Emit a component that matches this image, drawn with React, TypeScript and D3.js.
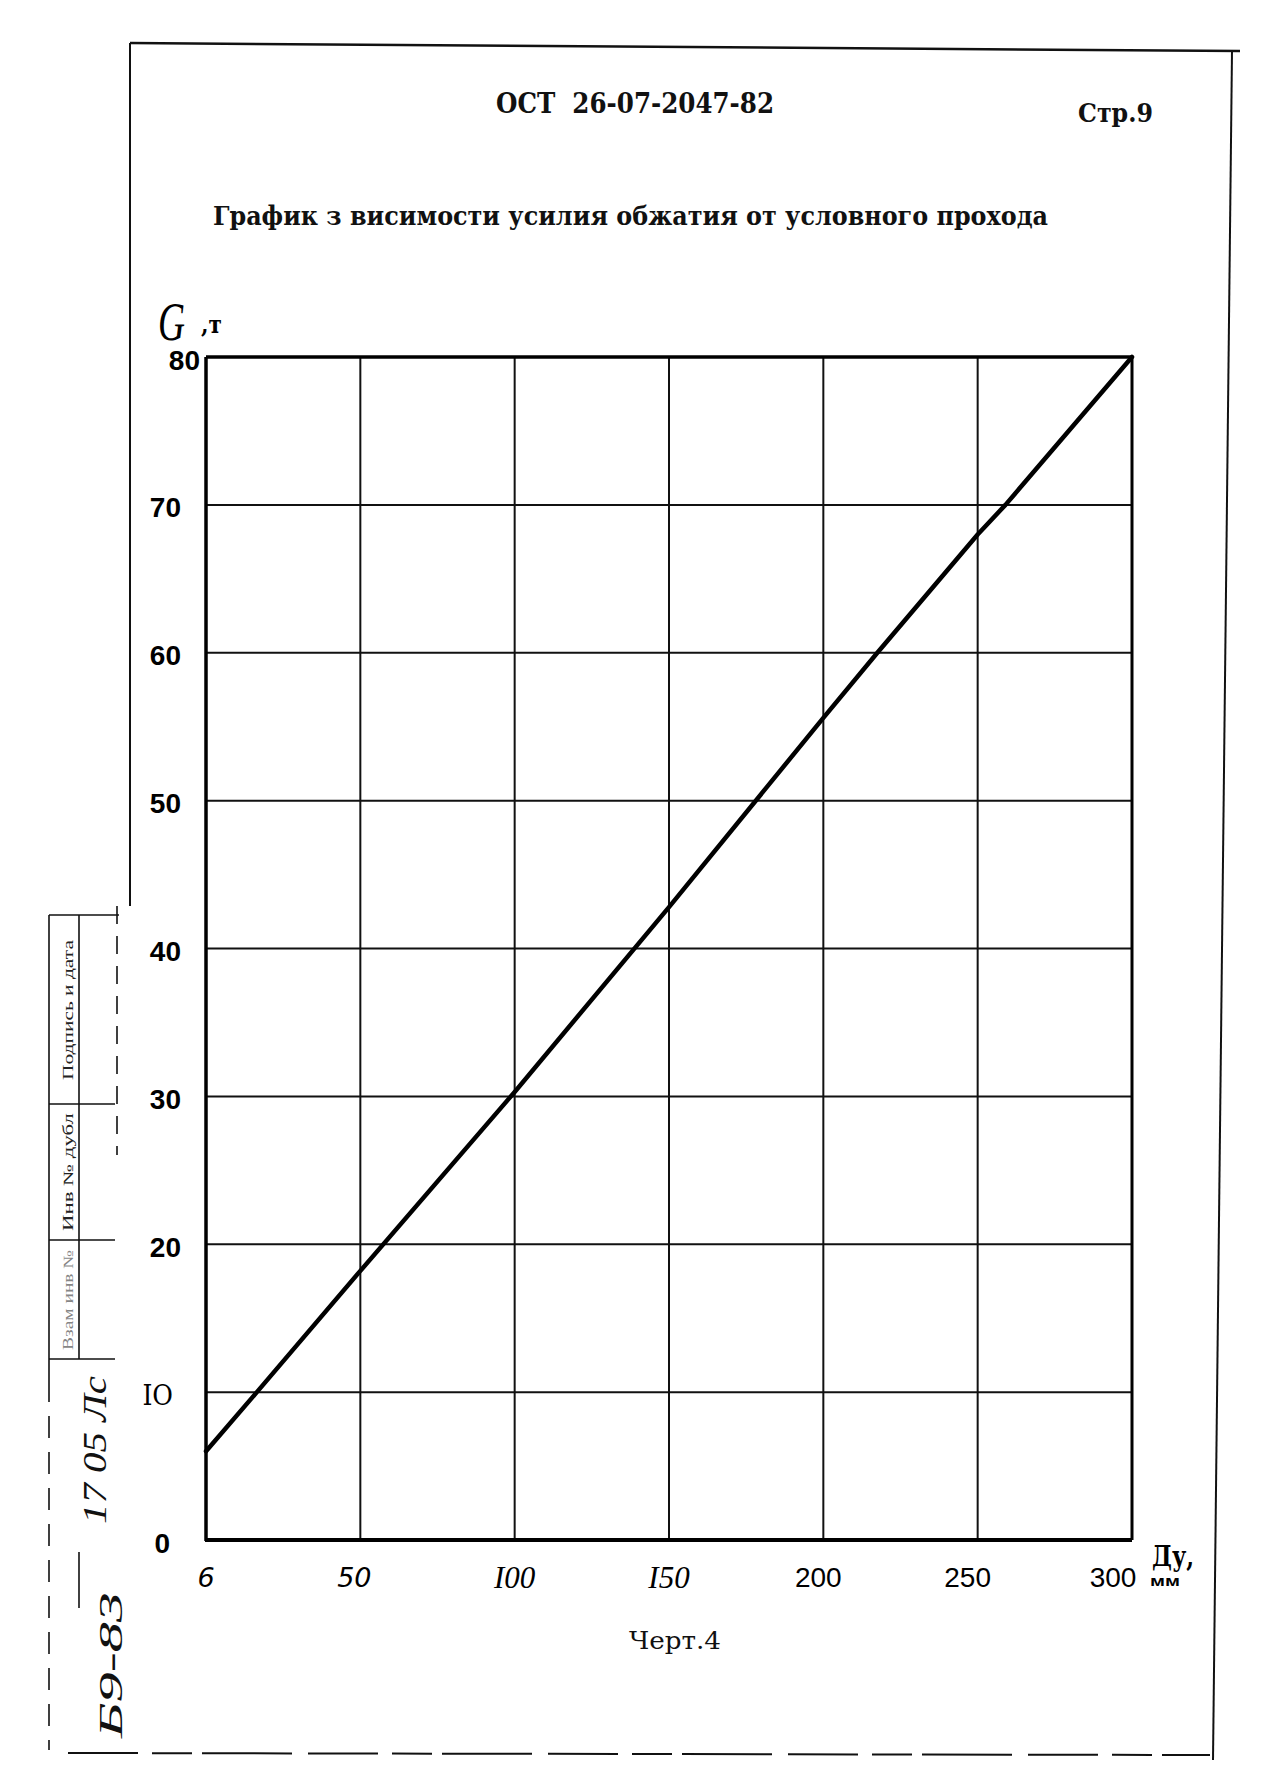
import React from "react";
import * as d3 from "d3";

// ---- data ----
const duValues = [6, 20.5, 50, 100, 150, 200, 217.5, 250, 259, 300];
const forceValues = [6.0, 10, 18.2, 30.3, 42.8, 55.6, 60, 68.0, 70, 80];

const xTickValues = [6, 50, 100, 150, 200, 250, 300];
const xTickLabels = ["6", "50", "I00", "I50", "200", "250", "300"];
const yTickValues = [0, 10, 20, 30, 40, 50, 60, 70, 80];
const yTickLabels = ["0", "IO", "20", "30", "40", "50", "60", "70", "80"];

const headerText = "ОСТ  26-07-2047-82";
const pageText = "Стр.9";
const titleText = "График з висимости усилия обжатия от условного прохода";
const captionText = "Черт.4";
const yAxisName = "G";
const yAxisUnit = ",т";
const xAxisName = "Ду,";
const xAxisUnit = "мм";
const stampTexts = ["Подпись и дата", "Инв № дубл", "Взам инв №"];
const handNotes = ["17 05 Лс", "Б9-83"];

// ---- layout / style constants ----
const W = 1272;
const H = 1776;
const TYPE = "'DejaVu Serif Condensed', 'DejaVu Serif', serif";
const SANS = "'Liberation Sans', Arial, sans-serif";
const X_LABEL_SHIFT = [0, -6, 0, 0, -5, -10, -19];

export default function App() {
  const left = 206, right = 1132, top = 357, bottom = 1540;
  const step = (right - left) / 6;
  const x = d3.scaleLinear().domain([6, 50, 300]).range([left, left + step, right]);
  const y = d3.scaleLinear().domain([0, 80]).range([bottom, top]);

  const pts: [number, number][] = duValues.map((d, i) => [d, forceValues[i]]);
  const line = d3
    .line<[number, number]>()
    .x((d) => x(d[0]))
    .y((d) => y(d[1]))
    .curve(d3.curveLinear);

  const xLabelStyle = (i: number) => {
    if (i < 2) return { fontFamily: "'DejaVu Sans', sans-serif", fontStyle: "italic", fontSize: 27 };
    if (i < 4) return { fontFamily: "'Liberation Serif', serif", fontStyle: "italic", fontSize: 31 };
    return { fontFamily: SANS, fontStyle: "normal", fontSize: 28 };
  };

  const yLabelX = (v: number, i: number) => {
    if (i === yTickValues.length - 1) return left - 6;
    if (v === 0) return left - 36;
    if (v === 10) return left - 33;
    return left - 25;
  };

  return (
    <svg
      width={W}
      height={H}
      viewBox={`0 0 ${W} ${H}`}
      style={{ position: "absolute", left: 0, top: 0, background: "#fff" }}
    >
      <rect x={0} y={0} width={W} height={H} fill="#fff" />

      {/* page frame */}
      <g stroke="#111" fill="none">
        <line x1={130} y1={43} x2={1240} y2={51} strokeWidth={2.5} />
        <line x1={130} y1={43} x2={130} y2={906} strokeWidth={2} />
        <line x1={1232} y1={51} x2={1213} y2={1760} strokeWidth={2} />
        <line x1={68} y1={1753} x2={1210} y2={1755} strokeWidth={2} strokeDasharray="70 14 40 10 90 16" />
      </g>

      {/* stamp column at left margin */}
      <g stroke="#111" fill="none" strokeWidth={1.6}>
        <line x1={49} y1={915} x2={49} y2={1380} />
        <line x1={49} y1={1380} x2={49} y2={1750} strokeDasharray="22 14" />
        <line x1={79} y1={915} x2={79} y2={1359} />
        <line x1={79} y1={1552} x2={79} y2={1608} />
        <line x1={117} y1={906} x2={117} y2={1155} strokeDasharray="18 12" />
        <line x1={49} y1={915} x2={119} y2={915} />
        <line x1={49} y1={1104} x2={115} y2={1104} />
        <line x1={49} y1={1240} x2={115} y2={1240} />
        <line x1={49} y1={1359} x2={115} y2={1359} />
      </g>
      <g fill="#222" fontFamily="'Liberation Serif', serif" fontSize={14}>
        <text transform="translate(68,1010) rotate(-90)" textAnchor="middle" dominantBaseline="central" textLength={140} lengthAdjust="spacingAndGlyphs">
          {stampTexts[0]}
        </text>
        <text transform="translate(68,1172) rotate(-90)" textAnchor="middle" dominantBaseline="central" textLength={118} lengthAdjust="spacingAndGlyphs">
          {stampTexts[1]}
        </text>
        <text transform="translate(68,1300) rotate(-90)" textAnchor="middle" dominantBaseline="central" textLength={100} lengthAdjust="spacingAndGlyphs" opacity={0.55}>
          {stampTexts[2]}
        </text>
      </g>
      <g fill="#111" fontFamily="'Liberation Serif', serif" fontStyle="italic" fontSize={34}>
        <text transform="translate(94,1450) rotate(-90)" textAnchor="middle" dominantBaseline="central" textLength={148} lengthAdjust="spacingAndGlyphs">
          {handNotes[0]}
        </text>
        <text transform="translate(110,1665) rotate(-90)" textAnchor="middle" dominantBaseline="central" textLength={146} lengthAdjust="spacingAndGlyphs">
          {handNotes[1]}
        </text>
      </g>

      {/* header texts */}
      <g fill="#111" fontFamily={TYPE} fontWeight="bold">
        <text x={496} y={113} fontSize={27} textLength={278} lengthAdjust="spacingAndGlyphs" style={{ whiteSpace: "pre" }}>
          {headerText}
        </text>
        <text x={1078} y={122} fontSize={26} textLength={75} lengthAdjust="spacingAndGlyphs">
          {pageText}
        </text>
        <text x={213} y={225} fontSize={26} textLength={835} lengthAdjust="spacingAndGlyphs">
          {titleText}
        </text>
        <text x={629} y={1649} fontSize={24} fontWeight="normal" textLength={92} lengthAdjust="spacingAndGlyphs">
          {captionText}
        </text>
      </g>

      {/* grid */}
      <g stroke="#111" strokeWidth={2}>
        {xTickValues.slice(1, -1).map((v) => (
          <line key={"gx" + v} x1={x(v)} x2={x(v)} y1={top} y2={bottom} />
        ))}
        {yTickValues.slice(1, -1).map((v) => (
          <line key={"gy" + v} x1={left} x2={right} y1={y(v)} y2={y(v)} />
        ))}
      </g>

      {/* plot frame */}
      <g stroke="#000" fill="none">
        <line x1={left} x2={right} y1={top} y2={top} strokeWidth={3.5} />
        <line x1={right} x2={right} y1={top} y2={bottom} strokeWidth={3} />
        <line x1={left} x2={left} y1={top} y2={bottom + 1} strokeWidth={3.5} />
        <line x1={left - 1} x2={right} y1={bottom} y2={bottom} strokeWidth={4} />
      </g>

      {/* curve */}
      <path d={line(pts) ?? ""} fill="none" stroke="#000" strokeWidth={4.5} strokeLinejoin="round" strokeLinecap="round" />

      {/* y tick labels */}
      <g fill="#000" fontSize={28}>
        {yTickValues.map((v, i) => (
          <text
            key={"yl" + v}
            x={yLabelX(v, i)}
            y={y(v) + 3}
            textAnchor="end"
            dominantBaseline="central"
            fontFamily={v === 10 ? TYPE : SANS}
            fontWeight={v === 10 ? "normal" : "bold"}
          >
            {yTickLabels[i]}
          </text>
        ))}
      </g>

      {/* x tick labels */}
      <g fill="#000">
        {xTickValues.map((v, i) => {
          const st = xLabelStyle(i);
          return (
            <text
              key={"xl" + v}
              x={x(v) + X_LABEL_SHIFT[i]}
              y={bottom + 37}
              textAnchor="middle"
              dominantBaseline="central"
              fontFamily={st.fontFamily}
              fontStyle={st.fontStyle}
              fontSize={st.fontSize}
            >
              {xTickLabels[i]}
            </text>
          );
        })}
      </g>

      {/* axis names */}
      <text x={158} y={340} fontSize={54} fontFamily="'Liberation Serif', serif" fontStyle="italic" fill="#000" textLength={27} lengthAdjust="spacingAndGlyphs">
        {yAxisName}
      </text>
      <text x={201} y={333} fontSize={24} fontFamily={TYPE} fontWeight="bold" fill="#000">
        {yAxisUnit}
      </text>
      <text x={1152} y={1566} fontSize={28} fontFamily={TYPE} fontWeight="bold" fill="#000" textLength={42} lengthAdjust="spacingAndGlyphs">
        {xAxisName}
      </text>
      <text x={1150} y={1586} fontSize={15} fontFamily={SANS} fontWeight="bold" fill="#000" textLength={30} lengthAdjust="spacingAndGlyphs">
        {xAxisUnit}
      </text>
    </svg>
  );
}
